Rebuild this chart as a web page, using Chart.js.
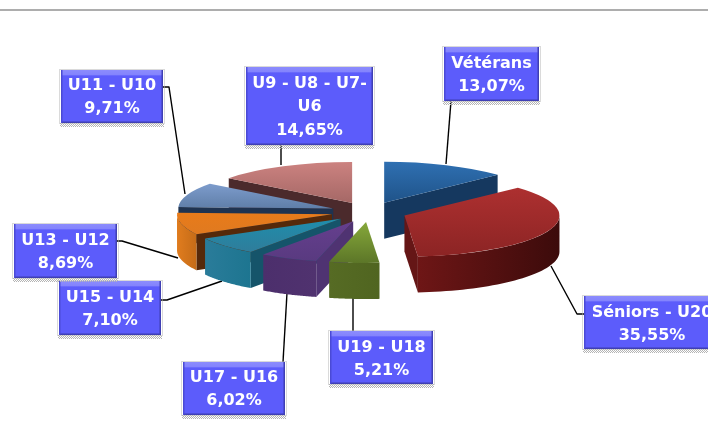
<!DOCTYPE html>
<html>
<head>
<meta charset="utf-8">
<style>html,body{margin:0;padding:0;background:#fff;overflow:hidden}canvas{display:block}</style>
<script src="https://cdn.jsdelivr.net/npm/chart.js@4/dist/chart.umd.min.js"></script>
</head>
<body>
<canvas id="c" width="708" height="435"></canvas>
<script>
const categories = ['Vétérans','Séniors - U20','U19 - U18','U17 - U16','U15 - U14','U13 - U12','U11 - U10','U9 - U8 - U7-U6'];
const values = [13.07,35.55,5.21,6.02,7.10,8.69,9.71,14.65];
const labelLines = [['Vétérans'],['Séniors - U20'],['U19 - U18'],['U17 - U16'],['U15 - U14'],['U13 - U12'],['U11 - U10'],['U9 - U8 - U7-','U6']];

const topLight = ['#2f70b2','#ad3030','#86a83a','#653f8e','#1f8dab','#e87b1a','#7d9ccc','#cc8280'];
const topDark  = ['#1f5389','#8c2424','#5c7628','#593a80','#2f7d9b','#e07a20','#5f7ea8','#a56866'];
const faceCol  = ['#15385f','#651616','#4f6420','#4f3372','#15546a','#55290a','#1f3350','#4b2a2c'];
const wallLeft = ['#15385f','#6e1616','#566b24','#4c2f6c','#2a7c9a','#e07c1e','#1f3350','#4b2a2c'];
const wallRight= ['#15385f','#3c0b0b','#506520','#50326f','#1d7590','#c56c18','#1f3350','#4b2a2c'];

// label box layout: x, y, w, h, first text line centre
const boxes = [
  [444,47,95,54,63],[584,296,136,53,312],[330,331,103,53,347],[183,362,102,53,377],
  [59,281,102,54,297],[14,224,103,54,240],[61,70,102,53,85],[246,67,127,78,83]
];
// leader line paths
const leaders = [
  [[451,101],[446,164]],
  [[584,314],[577,314],[551,266]],
  [[353,331],[353,298]],
  [[283,362],[287,293]],
  [[161,300],[167,300],[222,281]],
  [[117,241],[122,241],[178,258]],
  [[163,87],[169,87],[185,194]],
  [[281,145],[281,165]]
];

const RADIUS = 155, SQUASH = 41/155, EXPLODE = 38, DEPTH = 36;
const total = values.reduce((a,b)=>a+b,0);

function sliceGradient(c){
  const chart = c.chart, area = chart.chartArea, i = c.dataIndex;
  if(!area || i===undefined) return topLight[i||0];
  let sum = 0; for(let k=0;k<i;k++) sum += values[k];
  const a0 = -Math.PI/2 + sum/total*2*Math.PI, a1 = a0 + values[i]/total*2*Math.PI;
  const ys = [0, Math.sin(a0)*RADIUS, Math.sin(a1)*RADIUS];
  if(a0<Math.PI/2 && a1>Math.PI/2) ys.push(RADIUS);
  if(a0<3*Math.PI/2 && a1>3*Math.PI/2) ys.push(-RADIUS);
  const cy = (area.top+area.bottom)/2, h = (a0+a1)/2;
  const off = Math.sin(h)*EXPLODE;
  const g = chart.ctx.createLinearGradient(0, cy+off+Math.min(...ys), 0, cy+off+Math.max(...ys));
  g.addColorStop(0, topLight[i]); g.addColorStop(1, topDark[i]);
  return g;
}

const pie3d = {
  id:'pie3d',
  afterDatasetsUpdate(chart){
    chart.getDatasetMeta(0).data.forEach(el=>{
      const h=(el.startAngle+el.endAngle)/2;
      el.x += Math.cos(h)*EXPLODE; el.y += Math.sin(h)*EXPLODE;
    });
  },
  beforeDraw(chart){
    const ctx=chart.ctx;
    ctx.save();
    ctx.fillStyle='#adadad'; ctx.fillRect(0,9,708,2);
    ctx.restore();
    ctx.save();
    ctx.lineWidth=1.4; ctx.strokeStyle='#000'; ctx.lineJoin='round';
    leaders.forEach(p=>{ctx.beginPath();p.forEach((q,i)=>i?ctx.lineTo(q[0],q[1]):ctx.moveTo(q[0],q[1]));ctx.stroke();});
    ctx.restore();
  },
  beforeDatasetsDraw(chart){
    const ctx=chart.ctx, a=chart.chartArea, cy=(a.top+a.bottom)/2;
    const els=chart.getDatasetMeta(0).data;
    const sy=y=>cy+(y-cy)*SQUASH;
    const order=els.map((e,i)=>i).sort((p,q)=>{
      const m=i=>Math.sin((els[i].startAngle+els[i].endAngle)/2);
      return m(p)-m(q);
    });
    order.forEach(i=>{
      const e=els[i], R=e.outerRadius, ax=e.x, ay=sy(e.y);
      const edge=t=>[ax+R*Math.cos(t), ay+R*Math.sin(t)*SQUASH];
      const face=t=>{
        const p=edge(t);
        ctx.beginPath();ctx.moveTo(ax,ay);ctx.lineTo(p[0],p[1]);ctx.lineTo(p[0],p[1]+DEPTH);ctx.lineTo(ax,ay+DEPTH);ctx.closePath();
        ctx.fillStyle=faceCol[i];ctx.fill();
      };
      if(Math.cos(e.startAngle)<-1e-3) face(e.startAngle);
      if(Math.cos(e.endAngle)>1e-3) face(e.endAngle);
      const t0=Math.max(e.startAngle,0), t1=Math.min(e.endAngle,Math.PI);
      if(t1>t0){
        const pts=[];
        for(let k=0;k<=40;k++) pts.push(edge(t0+(t1-t0)*k/40));
        const xs=pts.map(p=>p[0]);
        const g=ctx.createLinearGradient(Math.min(...xs),0,Math.max(...xs),0);
        g.addColorStop(0,wallLeft[i]);g.addColorStop(1,wallRight[i]);
        ctx.beginPath();
        pts.forEach((p,k)=>k?ctx.lineTo(p[0],p[1]):ctx.moveTo(p[0],p[1]));
        pts.slice().reverse().forEach(p=>ctx.lineTo(p[0],p[1]+DEPTH));
        ctx.closePath();ctx.fillStyle=g;ctx.fill();
      }
    });
    ctx.save();
    ctx.translate(0,cy);ctx.scale(1,SQUASH);ctx.translate(0,-cy);
  },
  afterDatasetsDraw(chart){
    chart.ctx.restore();
  },
  afterDraw(chart){
    const ctx=chart.ctx;
    boxes.forEach((b,i)=>{
      const [x,y,w,h,ty]=b;
      ctx.save();
      // speckled shadow around the box
      ctx.strokeStyle='#b4b4b4';ctx.setLineDash([1,1]);ctx.lineWidth=1;
      ctx.strokeRect(x-1.5,y-0.5,w+3,h+1);
      [0.5,1.5,2.5,3.5].forEach((d,k)=>{
        ctx.lineDashOffset=k%2;
        ctx.beginPath();ctx.moveTo(x-1,y+h+d);ctx.lineTo(x+w+1,y+h+d);ctx.stroke();
      });
      ctx.setLineDash([]);
      ctx.fillStyle='#5c5cfb';ctx.fillRect(x,y,w,h);
      const g=ctx.createLinearGradient(0,y,0,y+6);
      g.addColorStop(0,'#8c8cfd');g.addColorStop(.75,'#8484fd');g.addColorStop(1,'#5c5cfb');
      ctx.fillStyle=g;ctx.fillRect(x,y,w,6);
      ctx.fillStyle='#3f3fb4';ctx.fillRect(x,y+h-1.5,w,1.5);ctx.fillRect(x+w-1.5,y,1.5,h);
      ctx.fillStyle='#4a4ad6';ctx.fillRect(x,y,1.5,h);
      ctx.fillStyle='#fff';ctx.textAlign='center';ctx.textBaseline='middle';
      ctx.font='bold 16px "DejaVu Sans"';
      const lines=[...labelLines[i], values[i].toFixed(2).replace('.',',')+'%'];
      lines.forEach((t,k)=>ctx.fillText(t,x+w/2,ty+1+k*23.3));
      ctx.restore();
    });
  }
};

new Chart(document.getElementById('c'),{
  type:'pie',
  data:{labels:categories,datasets:[{data:values,backgroundColor:sliceGradient,borderWidth:0,clip:false}]},
  options:{
    responsive:false,animation:false,radius:RADIUS,
    layout:{padding:{left:30,right:0,top:0,bottom:11}},
    plugins:{legend:{display:false},tooltip:{enabled:false}}
  },
  plugins:[pie3d]
});
</script>
</body>
</html>
